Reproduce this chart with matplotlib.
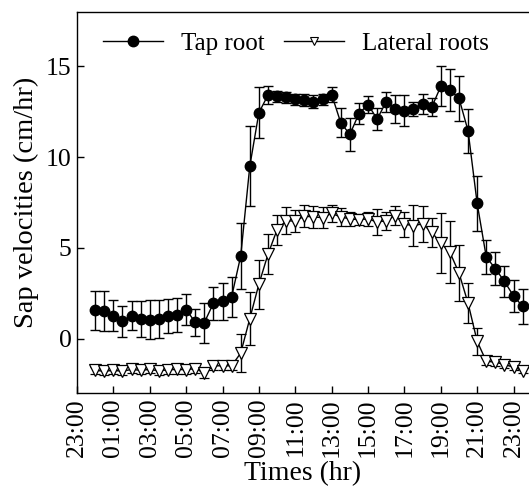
import matplotlib
matplotlib.use("Agg")
import matplotlib.pyplot as plt
from matplotlib.lines import Line2D
import numpy as np

plt.rcParams['font.family'] = ['Liberation Serif', 'DejaVu Serif']

# time in hours after 23:00 (half-hour sampling, 00:00 .. 23:30)
hours = [1 + 0.5 * i for i in range(48)]

tap_root = [1.55, 1.52, 1.25, 0.95, 1.25, 1.08, 1.05, 1.08, 1.25, 1.30,
            1.60, 0.90, 0.88, 1.95, 2.05, 2.30, 4.55, 9.50, 12.45, 13.42,
            13.35, 13.30, 13.20, 13.15, 13.05, 13.20, 13.45, 11.90, 11.25, 12.40,
            12.90, 12.10, 13.05, 12.65, 12.55, 12.65, 12.95, 12.75, 13.90, 13.70,
            13.25, 11.45, 7.45, 4.50, 3.85, 3.15, 2.35, 1.78]
tap_err = [1.05, 1.10, 0.85, 0.85, 0.80, 1.00, 1.10, 1.05, 0.95, 0.95,
           0.85, 0.75, 1.10, 0.90, 1.00, 1.10, 1.80, 2.20, 1.40, 0.50,
           0.30, 0.30, 0.30, 0.35, 0.35, 0.30, 0.40, 0.80, 0.90, 0.60,
           0.45, 0.60, 0.55, 0.75, 0.85, 0.40, 0.55, 0.50, 1.10, 1.15,
           1.25, 1.20, 1.50, 0.95, 0.90, 0.85, 0.90, 0.95]

lateral = [-1.75, -1.80, -1.75, -1.80, -1.70, -1.75, -1.70, -1.78, -1.72, -1.70,
           -1.72, -1.65, -1.90, -1.50, -1.50, -1.50, -0.80, 1.10, 3.00, 4.65,
           6.00, 6.50, 6.47, 6.75, 6.70, 6.67, 6.90, 6.70, 6.60, 6.55,
           6.60, 6.42, 6.50, 6.78, 6.30, 6.23, 6.32, 5.86, 5.26, 4.76,
           3.62, 1.95, -0.15, -1.25, -1.30, -1.43, -1.58, -1.76]
lat_err = [0.20, 0.20, 0.20, 0.22, 0.20, 0.22, 0.22, 0.25, 0.22, 0.25,
           0.25, 0.25, 0.25, 0.25, 0.25, 0.25, 1.05, 1.45, 1.35, 1.10,
           0.83, 0.75, 0.60, 0.60, 0.60, 0.60, 0.45, 0.50, 0.40, 0.30,
           0.40, 0.70, 0.50, 0.50, 0.70, 1.15, 1.00, 0.80, 1.65, 1.70,
           1.55, 1.10, 0.73, 0.20, 0.20, 0.20, 0.15, 0.15]

tick_pos = list(range(0, 25, 2))
tick_labels = ["23:00", "01:00", "03:00", "05:00", "07:00", "09:00", "11:00",
               "13:00", "15:00", "17:00", "19:00", "21:00", "23:00"]

fig = plt.figure(figsize=(5.29, 4.96), dpi=100)
ax = fig.add_axes([77 / 529, 1 - 393 / 496, 1 - 77 / 529, (393 - 12) / 496])

ax.errorbar(hours, lateral, yerr=lat_err, color='black', lw=1.0, elinewidth=1.0,
            capsize=3.5, capthick=1.0, marker='v', markersize=8,
            markerfacecolor='white', markeredgecolor='black', markeredgewidth=0.9,
            zorder=2)
ax.errorbar(hours, tap_root, yerr=tap_err, color='black', lw=1.0, elinewidth=1.0,
            capsize=3.5, capthick=1.0, marker='o', markersize=7.5,
            markerfacecolor='black', markeredgecolor='black', zorder=3)

ax.set_xlim(0, 24.85)
ax.set_ylim(-3, 18)
ax.set_xticks(tick_pos)
ax.set_xticklabels(tick_labels, rotation=90)
ax.set_yticks([0, 5, 10, 15])
ax.tick_params(direction='in', length=5, width=1, labelsize=18.5, pad=4)
ax.spines['right'].set_visible(False)
for s in ['left', 'bottom', 'top']:
    ax.spines[s].set_linewidth(1.0)

ax.set_xlabel("Times (hr)", fontsize=20, labelpad=3)
ax.set_ylabel("Sap velocities (cm/hr)", fontsize=20.5, labelpad=5)

handles = [Line2D([], [], color='black', lw=1.0, marker='o', markersize=7.5,
                  markerfacecolor='black'),
           Line2D([], [], color='black', lw=1.0, marker='v', markersize=6,
                  markerfacecolor='white', markeredgewidth=0.8)]
ax.legend(handles, ["Tap root", "Lateral roots"], loc='upper left', ncol=2,
          frameon=False, fontsize=18, handlelength=2.4, columnspacing=0.8,
          handletextpad=0.7, bbox_to_anchor=(0.025, 0.985), borderaxespad=0.2)

fig.savefig("out.png", dpi=100)
